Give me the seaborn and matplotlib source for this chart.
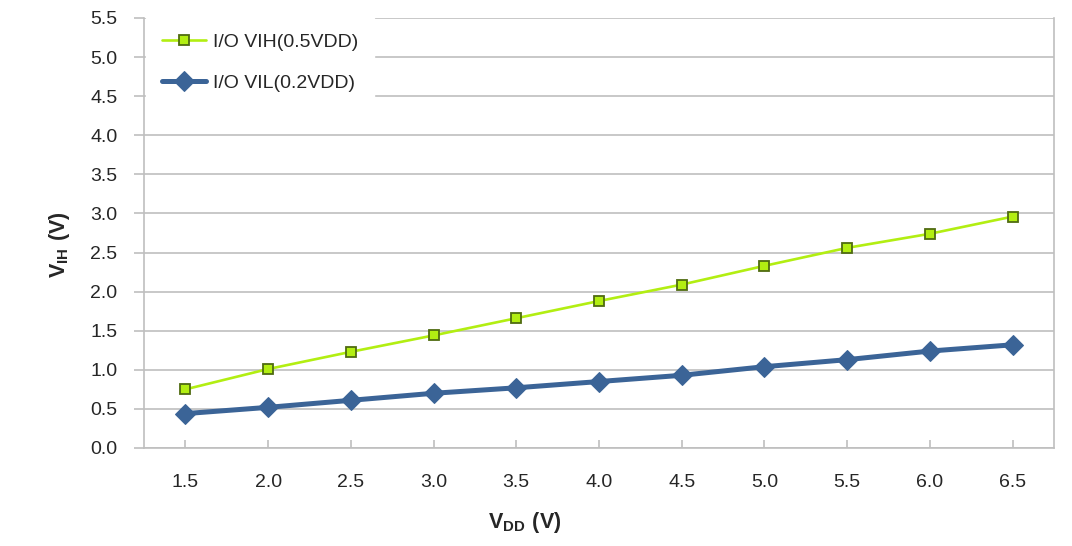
import matplotlib
matplotlib.use('Agg')
import pandas as pd
from matplotlib import pyplot as plt
import seaborn as sns

sns.set_style('white')
plt.rcParams['font.family'] = ['Liberation Sans', 'DejaVu Sans']
plt.rcParams['mathtext.fontset'] = 'custom'
plt.rcParams['mathtext.rm'] = 'Liberation Sans'
plt.rcParams['mathtext.bf'] = 'Liberation Sans:bold'

vdd = [1.5, 2.0, 2.5, 3.0, 3.5, 4.0, 4.5, 5.0, 5.5, 6.0, 6.5]
vih = [0.75, 1.01, 1.23, 1.44, 1.66, 1.88, 2.09, 2.33, 2.56, 2.74, 2.96]
vil = [0.44, 0.52, 0.61, 0.70, 0.77, 0.85, 0.93, 1.04, 1.13, 1.24, 1.32]
yticks = [0.0, 0.5, 1.0, 1.5, 2.0, 2.5, 3.0, 3.5, 4.0, 4.5, 5.0, 5.5]
names = ['I/O VIH(0.5VDD)', 'I/O VIL(0.2VDD)']

_green = '#b2ee12'
_green_edge = '#4f6b10'
_blue = '#3b6497'
_grid = '#bfbfbf'

df = pd.DataFrame({'vdd': vdd, names[0]: vih, names[1]: vil})

f = plt.figure(figsize=(10.72, 5.46), dpi=100)
ax = f.add_axes([144 / 1072, 1 - 448 / 546, (1054 - 144) / 1072, (448 - 18) / 546])

sns.lineplot(data=df, x='vdd', y=names[0], ax=ax, color=_green, lw=1.9,
             marker='s', markersize=6.5, markerfacecolor=_green,
             markeredgecolor=_green_edge, markeredgewidth=1.3, label=names[0])
sns.lineplot(data=df, x='vdd', y=names[1], ax=ax, color=_blue, lw=3.6,
             marker='D', markersize=10, markerfacecolor=_blue,
             markeredgecolor=_blue, label=names[1])

ax.set_xlim(1.25, 6.75)
ax.set_ylim(0, 5.5)
ax.set_xticks(vdd)
ax.set_xticklabels(['%.1f' % v for v in vdd])
ax.set_yticks(yticks)
ax.set_yticklabels(['%.1f' % v for v in yticks])
ax.yaxis.grid(True, color=_grid, lw=1.2)
ax.set_axisbelow(True)
for side in ['left', 'right', 'bottom']:
    ax.spines[side].set_color(_grid)
    ax.spines[side].set_linewidth(1.2)
ax.spines['top'].set_visible(False)

ax.tick_params(axis='y', direction='out', length=7, width=1.2, color=_grid,
               pad=12, labelsize=14, left=True)
ax.tick_params(axis='x', direction='in', length=6, width=1.2, color=_grid,
               pad=19, labelsize=14, bottom=True)

ax.set_xlabel(r'$\mathbf{V_{DD}\ (V)}$', fontsize=15.5)
ax.set_ylabel(r'$\mathbf{V_{IH}\ (V)}$', fontsize=15.5)
ax.xaxis.set_label_coords((525 - 144) / 910, -(510 - 448) / 430)
ax.yaxis.set_label_coords(-(144 - 72) / 910, (448 - 245) / 430)

leg = ax.legend(loc='upper left', bbox_to_anchor=(2 / 910, 1.0), borderaxespad=0,
                frameon=True, fontsize=14, handlelength=2.3, labelspacing=1.2,
                borderpad=0.8, handletextpad=0.35, fancybox=False)
leg.get_frame().set_edgecolor('white')
leg.get_frame().set_facecolor('white')
leg.get_frame().set_alpha(1.0)

plt.savefig('out.png', dpi=100)
